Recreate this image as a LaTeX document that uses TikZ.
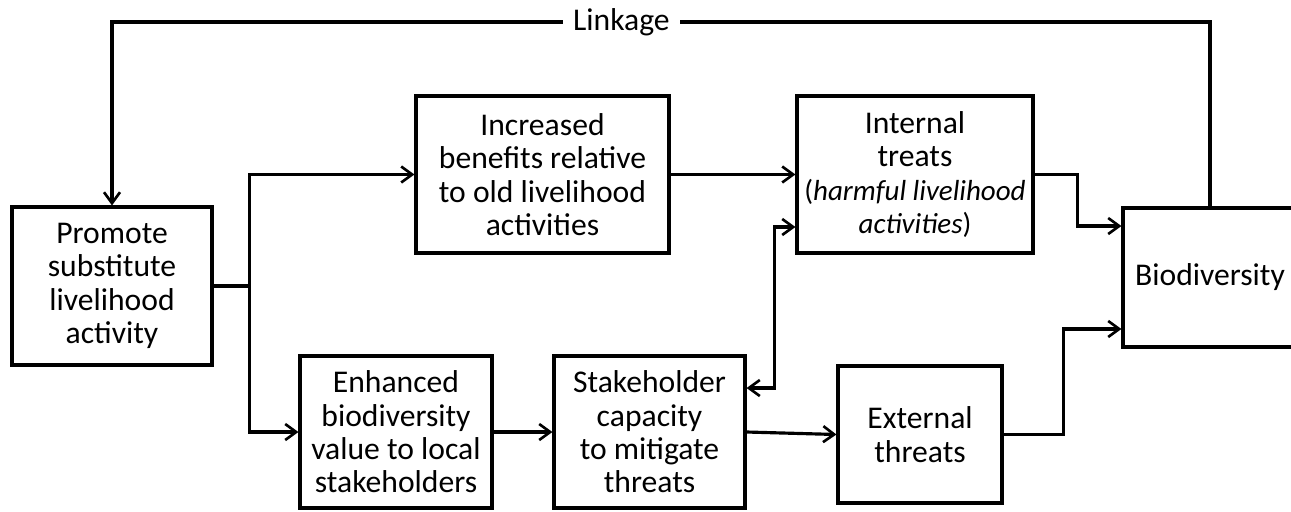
\documentclass[tikz,border=0pt]{standalone}
\usepackage{fontspec}
\setmainfont{Carlito}
\usetikzlibrary{arrows.meta}

\begin{document}
\begin{tikzpicture}[x=0.02cm, y=-0.02cm,
    box/.style={draw, line width=1.8pt, align=center, inner sep=2pt,
      font=\fontsize{18}{19}\selectfont},
    tip/.tip={Straight Barb[length=2.2mm, width=3.2mm, line width=1.5pt]},
    arr/.style={line width=1.8pt, -tip},
    twoway/.style={line width=1.8pt, tip-tip}]
    % Frame of the figure, the Biodiversity box is cut at the right edge
    \useasboundingbox (0,0) rectangle (1291,511);
    \clip (0,0) rectangle (1291,511);
    % Boxes at their centres
    \node[box, minimum width=4cm, minimum height=3.16cm] (promote) at (112,286)
      {Promote\\substitute\\livelihood\\activity};
    \node[box, minimum width=5.06cm, minimum height=3.14cm] (increased) at (542.5,174.5)
      {Increased\\benefits relative\\to old livelihood\\activities};
    \node[box, minimum width=4.72cm, minimum height=3.14cm] (internal) at (915,174.5)
      {Internal\\treats\\{\fontsize{16.5}{19}\selectfont(\textit{harmful livelihood}}\\
       {\fontsize{16.5}{19}\selectfont\textit{activities})}};
    \node[box, minimum width=3.48cm, minimum height=2.78cm] (biodiv) at (1210,277.5)
      {Biodiversity};
    \node[box, minimum width=3.84cm, minimum height=3.04cm] (enhanced) at (396,432)
      {Enhanced\\biodiversity\\value to local\\stakeholders};
    \node[box, minimum width=3.82cm, minimum height=3.04cm] (stake) at (649.5,432)
      {Stakeholder\\capacity\\to mitigate\\threats};
    \node[box, minimum width=3.28cm, minimum height=2.74cm] (external) at (920,434.5)
      {External\\threats};
    % Split out of the substitute livelihood box
    \draw[arr] (promote.east) -- ++(36,0) |- (increased.west);
    \draw[arr] (promote.east) -- ++(36,0) |- (enhanced.west);
    \draw[arr] (increased) -- (internal);
    \draw[arr] (enhanced) -- (stake);
    \draw[arr] (stake.east) -- (external.west);
    % Both kinds of threats act on biodiversity
    \draw[arr] (internal.east) -- ++(43,0) |- ([yshift=1.03cm]biodiv.west);
    \draw[arr] (external.east) -- ++(60,0) |- ([yshift=-1.03cm]biodiv.west);
    % Two-way link between capacity and internal threats
    \draw[twoway] ([yshift=0.88cm]stake.east) -- ++(28,0) |- ([yshift=-1.05cm]internal.west);
    % Feedback line along the top
    \draw[arr] (biodiv.north) -- (biodiv.north |- 0,22) -| node[pos=0.268, fill=white,
      inner xsep=6pt, font=\fontsize{18}{19}\selectfont] (linkage) {Linkage} (promote.north);
\end{tikzpicture}
\end{document}
